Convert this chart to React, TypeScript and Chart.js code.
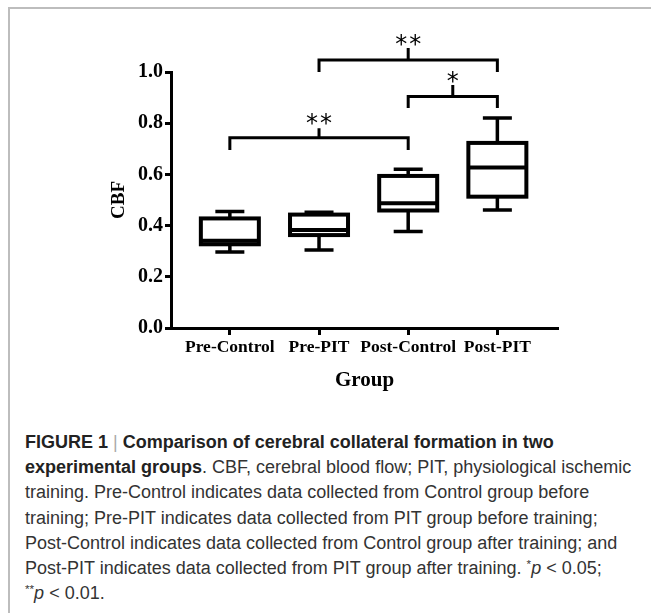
import React, { useEffect, useRef } from "react";
import { Chart, registerables } from "chart.js";

Chart.register(...registerables);

// ---- data ----
const categories = ["Pre-Control", "Pre-PIT", "Post-Control", "Post-PIT"];
const whiskerMin = [0.297, 0.305, 0.377, 0.461];
const quartile1 = [0.327, 0.363, 0.459, 0.513];
const medians = [0.341, 0.383, 0.487, 0.627];
const quartile3 = [0.428, 0.443, 0.594, 0.723];
const whiskerMax = [0.455, 0.452, 0.62, 0.82];
const yTickValues = [0, 0.2, 0.4, 0.6, 0.8, 1.0];

// significance brackets
const sigFrom = [0, 2, 1];
const sigTo = [2, 3, 3];
const sigLabels = ["**", "*", "**"];
const sigBarLevel = [0.743, 0.904, 1.047];
const sigLegEnd = [0.695, 0.859, 1.0];
const sigStemTop = [0.78, 0.949, 1.094];
const sigTextLevel = [0.824, 0.988, 1.13];

// ---- styles ----
const SERIF = "'Liberation Serif', 'Times New Roman', serif";
const SANS = "'Liberation Sans', Arial, sans-serif";
const STAR_FONT = "'DejaVu Sans', sans-serif";
const BOX_HALF = 29;
const CAP_HALF = 14.5;
const BOX_LINE = 4;
const WHISKER_LINE = 3.5;
const BRACKET_LINE = 3;
const STAR_SIZE = 24;

const boxPlugin = {
  id: "boxplotDraw",
  afterDatasetsDraw(chart: any) {
    const { ctx, scales } = chart;
    const xs = scales.x;
    const ys = scales.y;
    ctx.save();
    ctx.strokeStyle = "#000";
    ctx.lineCap = "butt";
    categories.forEach((_, i) => {
      const cx = xs.getPixelForValue(i);
      const yMin = ys.getPixelForValue(whiskerMin[i]);
      const yQ1 = ys.getPixelForValue(quartile1[i]);
      const yMed = ys.getPixelForValue(medians[i]);
      const yQ3 = ys.getPixelForValue(quartile3[i]);
      const yMax = ys.getPixelForValue(whiskerMax[i]);
      ctx.lineWidth = WHISKER_LINE;
      ctx.beginPath();
      ctx.moveTo(cx, yQ3);
      ctx.lineTo(cx, yMax);
      ctx.moveTo(cx - CAP_HALF, yMax);
      ctx.lineTo(cx + CAP_HALF, yMax);
      ctx.moveTo(cx, yQ1);
      ctx.lineTo(cx, yMin);
      ctx.moveTo(cx - CAP_HALF, yMin);
      ctx.lineTo(cx + CAP_HALF, yMin);
      ctx.stroke();
      ctx.fillStyle = "#fff";
      ctx.fillRect(cx - BOX_HALF, yQ3, BOX_HALF * 2, yQ1 - yQ3);
      ctx.lineWidth = BOX_LINE;
      ctx.strokeRect(cx - BOX_HALF, yQ3, BOX_HALF * 2, yQ1 - yQ3);
      ctx.beginPath();
      ctx.moveTo(cx - BOX_HALF, yMed);
      ctx.lineTo(cx + BOX_HALF, yMed);
      ctx.stroke();
    });
    ctx.restore();
  },
  afterDraw(chart: any) {
    const { ctx, scales } = chart;
    const xs = scales.x;
    const ys = scales.y;
    ctx.save();
    ctx.strokeStyle = "#000";
    ctx.fillStyle = "#000";
    ctx.lineWidth = BRACKET_LINE;
    ctx.lineJoin = "miter";
    sigLabels.forEach((label, k) => {
      const x1 = xs.getPixelForValue(sigFrom[k]);
      const x2 = xs.getPixelForValue(sigTo[k]);
      const xm = (x1 + x2) / 2;
      const yBar = ys.getPixelForValue(sigBarLevel[k]);
      const yLeg = ys.getPixelForValue(sigLegEnd[k]);
      const yStem = ys.getPixelForValue(sigStemTop[k]);
      ctx.beginPath();
      ctx.moveTo(x1, yLeg);
      ctx.lineTo(x1, yBar);
      ctx.lineTo(x2, yBar);
      ctx.lineTo(x2, yLeg);
      ctx.moveTo(xm, yBar);
      ctx.lineTo(xm, yStem);
      ctx.stroke();
      ctx.font = `${STAR_SIZE}px ${STAR_FONT}`;
      ctx.textAlign = "center";
      ctx.textBaseline = "alphabetic";
      const chars = label.split("");
      const adv = STAR_SIZE * 0.5 + 2;
      const y = ys.getPixelForValue(sigTextLevel[k]) + STAR_SIZE * 0.565;
      chars.forEach((ch, j) => {
        ctx.fillText(ch, xm + (j - (chars.length - 1) / 2) * adv, y);
      });
    });
    ctx.restore();
  },
};

export default function App() {
  const canvasRef = useRef<HTMLCanvasElement | null>(null);

  useEffect(() => {
    document.body.style.margin = "0";
    const canvas = canvasRef.current;
    if (!canvas) return;
    const chart = new Chart(canvas, {
      type: "scatter",
      data: {
        datasets: [
          {
            data: categories.map((_, i) => ({ x: i, y: medians[i] })),
            pointRadius: 0,
            showLine: false,
          },
        ],
      },
      options: {
        animation: false,
        responsive: false,
        devicePixelRatio: 1,
        layout: { padding: { left: 104, top: 72, right: 93, bottom: 3 } },
        plugins: { legend: { display: false }, tooltip: { enabled: false } },
        scales: {
          x: {
            type: "linear",
            min: -0.66,
            max: 3.68,
            afterBuildTicks: (s: any) => {
              s.ticks = categories.map((_, i) => ({ value: i }));
            },
            afterFit: (s: any) => {
              s.height = 69;
            },
            ticks: {
              callback: (v: any) => categories[v as number] ?? "",
              font: { family: SERIF, weight: "bold", size: 17.5 },
              color: "#000",
              maxRotation: 0,
              autoSkip: false,
              padding: 2,
            },
            grid: {
              display: true,
              drawOnChartArea: false,
              drawTicks: true,
              tickLength: 7,
              tickWidth: 3,
              tickColor: "#000",
            },
            border: { display: true, color: "#000", width: 3 },
            title: {
              display: true,
              text: "Group",
              color: "#000",
              font: { family: SERIF, weight: "bold", size: 21 },
              padding: { top: 4, bottom: 4 },
            },
          },
          y: {
            type: "linear",
            min: 0,
            max: 1,
            afterBuildTicks: (s: any) => {
              s.ticks = yTickValues.map((v) => ({ value: v }));
            },
            afterFit: (s: any) => {
              s.width = 67;
            },
            ticks: {
              callback: (v: any) => Number(v).toFixed(1),
              font: { family: SERIF, weight: "bold", size: 20 },
              color: "#000",
              padding: 2,
            },
            grid: {
              display: true,
              drawOnChartArea: false,
              drawTicks: true,
              tickLength: 6,
              tickWidth: 3,
              tickColor: "#000",
            },
            border: { display: true, color: "#000", width: 3 },
            title: {
              display: true,
              text: "CBF",
              color: "#000",
              font: { family: SERIF, weight: "bold", size: 19 },
              padding: { top: 4, bottom: 4 },
            },
          },
        },
      },
      plugins: [boxPlugin],
    });
    return () => chart.destroy();
  }, []);

  const captionStyle: React.CSSProperties = {
    position: "absolute",
    left: 25,
    top: 430,
    fontFamily: SANS,
    fontSize: 18,
    lineHeight: "25.2px",
    color: "#333",
    whiteSpace: "nowrap",
  };
  const supStyle: React.CSSProperties = {
    fontSize: "0.65em",
    position: "relative",
    top: "-0.55em",
    lineHeight: 0,
  };

  return (
    <div style={{ position: "relative", width: 651, height: 613, background: "#fff", overflow: "hidden" }}>
      <div
        style={{
          position: "absolute",
          left: 8,
          top: 7,
          right: -4,
          bottom: -4,
          borderTop: "2px solid #bdbdbd",
          borderLeft: "2px solid #bdbdbd",
        }}
      />
      <canvas
        ref={canvasRef}
        width={651}
        height={400}
        style={{ position: "absolute", left: 0, top: 0, width: 651, height: 400 }}
      />
      <div style={captionStyle}>
        <b style={{ color: "#222" }}>FIGURE 1</b> <span style={{ color: "#aaa" }}>|</span>{" "}
        <b style={{ color: "#222" }}>Comparison of cerebral collateral formation in two</b>
        <br />
        <b style={{ color: "#222" }}>experimental groups</b>. CBF, cerebral blood flow; PIT, physiological ischemic
        <br />
        training. Pre-Control indicates data collected from Control group before
        <br />
        training; Pre-PIT indicates data collected from PIT group before training;
        <br />
        Post-Control indicates data collected from Control group after training; and
        <br />
        Post-PIT indicates data collected from PIT group after training. <span style={supStyle}>*</span>
        <i>p</i> &lt; 0.05;
        <br />
        <span style={supStyle}>**</span>
        <i>p</i> &lt; 0.01.
      </div>
    </div>
  );
}
